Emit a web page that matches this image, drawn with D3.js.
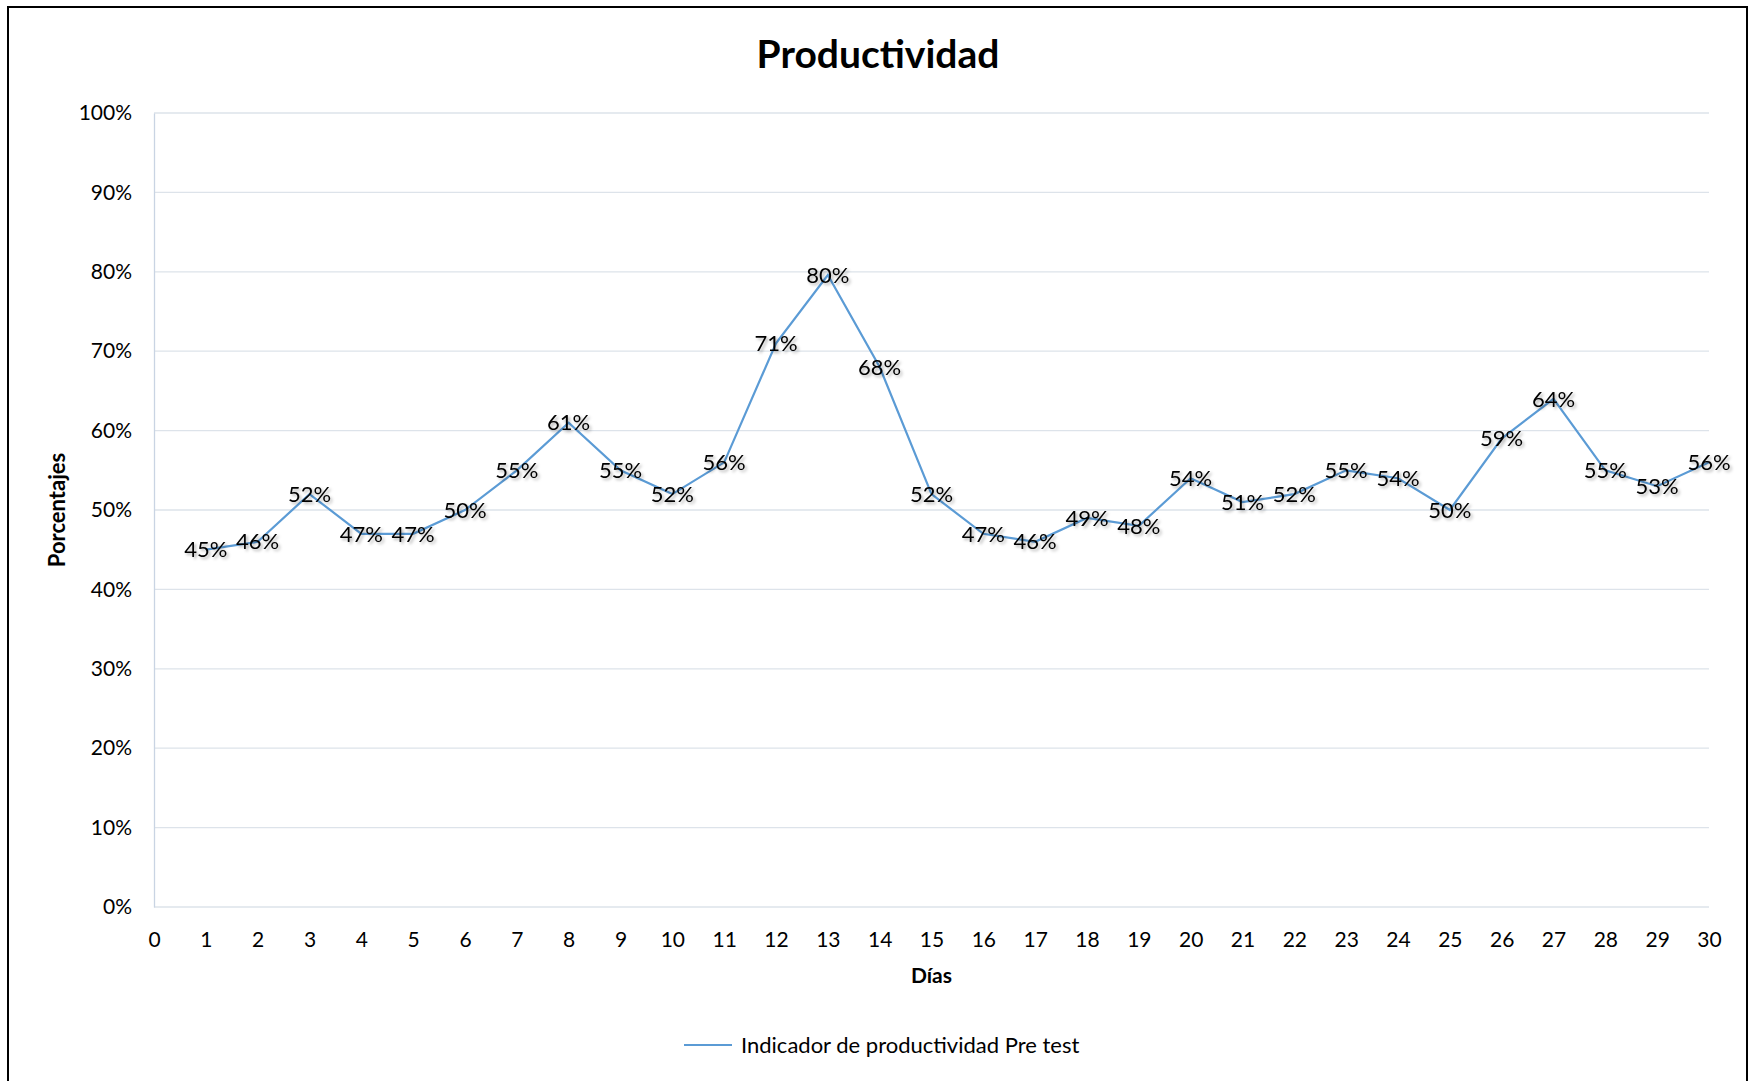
<!DOCTYPE html>
<html>
<head>
<meta charset="utf-8">
<script src="https://cdn.jsdelivr.net/npm/d3@7"></script>
<style>
  body { margin: 0; background: #fff; }
  svg { display: block; font-family: Lato, "Open Sans", sans-serif; }
</style>
</head>
<body>
<div id="chart"></div>
<script>
const width = 1750;
const height = 1081;
const margin = { left: 154, top: 113, right: 41, bottom: 174 };

// data
const days = d3.range(1, 31);
const productividad = [0.45, 0.46, 0.52, 0.47, 0.47, 0.50, 0.55, 0.61, 0.55, 0.52,
  0.56, 0.71, 0.796, 0.68, 0.52, 0.47, 0.46, 0.49, 0.48, 0.54,
  0.51, 0.52, 0.55, 0.54, 0.50, 0.59, 0.64, 0.55, 0.53, 0.56];
const yTicks = [0, 0.1, 0.2, 0.3, 0.4, 0.5, 0.6, 0.7, 0.8, 0.9, 1];
const xTicks = d3.range(0, 31);
const seriesName = "Indicador de productividad Pre test";

const lineColor = "#5b9bd5";
const gridColor = "#dde3ea";

const svg = d3.select("#chart").append("svg")
  .attr("width", width)
  .attr("height", height);

// shadow for labels
const defs = svg.append("defs");
const f = defs.append("filter").attr("id", "shadow")
  .attr("x", "-20%").attr("y", "-20%").attr("width", "150%").attr("height", "150%");
f.append("feDropShadow").attr("dx", 2).attr("dy", 2).attr("stdDeviation", 1.8)
  .attr("flood-color", "#000").attr("flood-opacity", 0.3);

// frame
svg.append("rect")
  .attr("x", 8).attr("y", 7)
  .attr("width", 1739).attr("height", 1090)
  .attr("fill", "none").attr("stroke", "#000").attr("stroke-width", 2);

const x = d3.scaleLinear().domain([0, 30]).range([margin.left, width - margin.right]);
const y = d3.scaleLinear().domain([0, 1]).range([height - margin.bottom, margin.top]);

// gridlines
svg.append("g")
  .selectAll("line")
  .data(yTicks)
  .enter().append("line")
  .attr("x1", x(0)).attr("x2", x(30))
  .attr("y1", d => y(d)).attr("y2", d => y(d))
  .attr("stroke", gridColor).attr("stroke-width", 1.3);

// y axis
const yAxis = svg.append("g")
  .attr("transform", "translate(" + x(0) + ",0)")
  .call(d3.axisLeft(y).tickValues(yTicks).tickFormat(d3.format(".0%")).tickSize(0).tickPadding(22));
yAxis.select(".domain").attr("stroke", "#c9d4e3").attr("stroke-width", 1.3);
yAxis.selectAll("text").attr("font-size", 21).attr("fill", "#000").attr("font-family", "Lato, sans-serif");

// x axis
const xAxis = svg.append("g")
  .attr("transform", "translate(0," + y(0) + ")")
  .call(d3.axisBottom(x).tickValues(xTicks).tickFormat(d3.format("d")).tickSize(0).tickPadding(25));
xAxis.select(".domain").remove();
xAxis.selectAll("text").attr("font-size", 21).attr("fill", "#000").attr("font-family", "Lato, sans-serif");

// line
const line = d3.line()
  .x((d, i) => x(days[i]))
  .y(d => y(d));

svg.append("path")
  .datum(productividad)
  .attr("d", line)
  .attr("fill", "none")
  .attr("stroke", lineColor)
  .attr("stroke-width", 2.2);

// data labels
svg.append("g")
  .selectAll("text")
  .data(productividad)
  .enter().append("text")
  .attr("x", (d, i) => x(days[i]))
  .attr("y", d => y(d))
  .attr("dy", "0.35em")
  .attr("text-anchor", "middle")
  .attr("font-size", 22)
  .attr("fill", "#000")
  .attr("filter", "url(#shadow)")
  .text(d => d3.format(".0%")(d));

// titles
svg.append("text")
  .attr("x", 878).attr("y", 68)
  .attr("text-anchor", "middle")
  .attr("font-size", 39).attr("font-weight", "bold")
  .text("Productividad");

svg.append("text")
  .attr("transform", "translate(65," + ((y(0) + y(1)) / 2) + ") rotate(-90)")
  .attr("text-anchor", "middle")
  .attr("font-size", 22).attr("font-weight", "bold")
  .text("Porcentajes");

svg.append("text")
  .attr("x", (x(0) + x(30)) / 2).attr("y", 983)
  .attr("text-anchor", "middle")
  .attr("font-size", 21).attr("font-weight", "bold")
  .text("Días");

// legend
const legend = svg.append("g").attr("transform", "translate(684,1045)");
legend.append("line")
  .attr("x1", 0).attr("x2", 48).attr("y1", 0).attr("y2", 0)
  .attr("stroke", lineColor).attr("stroke-width", 2.2);
legend.append("text")
  .attr("x", 57).attr("y", 0).attr("dy", "0.35em")
  .attr("font-size", 22)
  .text(seriesName);
</script>
</body>
</html>
